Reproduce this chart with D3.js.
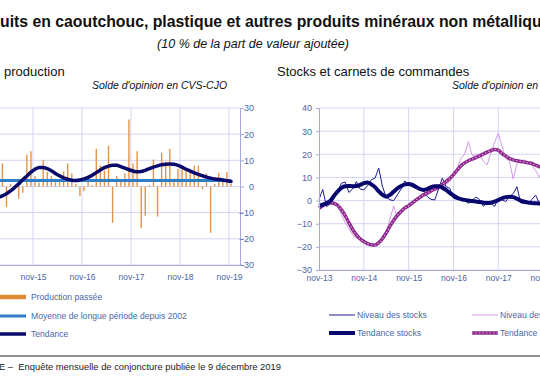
<!DOCTYPE html>
<html>
<head>
<meta charset="utf-8">
<script src="https://cdn.jsdelivr.net/npm/d3@7"></script>
<style>
  body { margin: 0; background: #fff; }
  svg { display: block; font-family: "Liberation Sans", Arial, sans-serif; }
</style>
</head>
<body>
<svg id="chart" width="540" height="376"></svg>
<script>
// month index 0 = nov-13
const tickMonths = [0, 12, 24, 36, 48, 60, 72];
const tickLabels = ["nov-13", "nov-14", "nov-15", "nov-16", "nov-17", "nov-18", "nov-19"];

// left panel : production passée (monthly bars from month 16 = mar-15)
const prodStart = 16;
const prodBars = [8.8, -7.8, 1, 0.5, -4.6, -2.4, 12.2, 13.5, 4, 1.5,
  10, 5.5, 4, 3, 2, 5.8, 8.8, 5, 1, -3.7,
  -1.8, 1.7, 0.5, 14.4, 8, 6, 15.6, -13.9, 4, 2,
  5, 25.6, 8.8, 13.5, -16, -11.2, 0.5, 10.3, -11.5, 12.9,
  9.5, 14.4, 3, 6.7, 6.5, 6, 5, 8, 8, -1,
  5, -17.7, 1, 5.2, 2, 5.5, 1];

// tendance (from month 15)
const prodTrendStart = 15;
const prodTrend = [-4.2, -3.6, -2.8, -1.7, -0.4, 1.0, 2.6, 4.0, 5.5, 6.6,
  7.3, 7.3, 6.8, 6.0, 5.0, 4.1, 3.3, 2.8, 2.4, 2.3,
  2.5, 2.9, 3.5, 4.3, 5.3, 6.3, 7.2, 7.8, 8.1, 8.1,
  7.6, 7.0, 6.4, 5.9, 5.6, 5.7, 6.2, 6.8, 7.4, 7.9,
  8.3, 8.5, 8.6, 8.5, 8.1, 7.4, 6.6, 5.9, 5.2, 4.6,
  4.1, 3.6, 3.2, 2.9, 2.7, 2.5, 2.2, 1.9];

const longTermMean = 2.3;

// right panel : stocks et carnets (from month 0)
const stocks = [0.5, 4.8, -2.6, -1.5, 1, 4, 7.5, 8, 3.5, 5,
  8.2, 5, 4.6, 6.5, 9, 9.7, 14, 6, 1.5, 0.3,
  0, 2.5, 5, 8.5, 6.8, 6, 5.3, 5, 4.6, 1.7,
  0.5, 0.3, 5, 9.7, 6, 5.3, 1, 0.5, 0.8, 0,
  -1.2, 0, 1.5, 0.5, -2.5, -1, -1.2, -2.6, 0.8, 0.3,
  -0.4, 1.7, 3, 6, -1, -1.2, -1.2, 0.5, 2.4, -1.2,
  -1.5];
const stocksTrend = [-2.2, -1.8, -1.2, -0.2, 2, 4, 5.5, 6.2, 6.3, 6.2,
  6.3, 6.8, 7.5, 7.8, 7, 5.8, 4, 2.5, 1.7, 2.5,
  3.9, 5.3, 6.3, 7, 7.2, 6.8, 5.9, 5, 4.6, 5,
  5.8, 6.2, 6.2, 5.6, 4.6, 3.3, 2.2, 1.2, 0.6, 0.3,
  0, -0.2, -0.4, -0.6, -0.9, -1, -0.9, -0.5, 0.2, 1,
  1.5, 1.7, 1.5, 0.8, 0, -0.5, -0.9, -1.1, -1.2, -1.3,
  -1.4];
const carnets = [-3.3, -1.5, 0, 0.3, -0.5, -2.5, -6, -9.5, -12, -14.8,
  -16.3, -16.5, -17, -19.2, -18.5, -19.5, -18, -15, -13.4, -8,
  -2.3, -7.6, -4.8, -3, -2.6, -1.2, 0, 1, 1.7, 2.5,
  3.9, 4.5, 5, 6, 7, 8.2, 11, 14, 18.3, 20,
  25.5, 19.5, 19.7, 20, 17, 15.4, 20.5, 25, 29.1, 23.5,
  18.3, 17, 9.3, 16, 17, 17.6, 16.5, 15.4, 13, 10,
  14];
const carnetsTrend = [-3.3, -2.2, -1.2, -0.9, -1.2, -2, -4, -6.5, -9.5, -12.5,
  -14.8, -16.5, -17.7, -18.6, -19.1, -19.2, -18.2, -16.5, -14, -11,
  -8.5, -6.3, -4.7, -3.2, -2.2, -1, 0.3, 1.4, 2.5, 3.3,
  4.2, 5, 6, 7, 8.2, 9.5, 11.2, 13.2, 15, 16.3,
  17.2, 17.9, 18.6, 19.3, 20.1, 20.9, 21.6, 22.1, 21.8, 20.3,
  19.2, 18.2, 17.6, 17.2, 16.9, 16.6, 16.3, 16, 15.3, 14.7,
  14.2];

const leftTicks = [-30, -20, -10, 0, 10, 20, 30];
const rightTicks = [-30, -20, -10, 0, 10, 20, 30, 40];

const gridColor = "#d4d4f4";
const axisColor = "#a8a8e0";
const labelColor = "#4a66a6";

const svg = d3.select("#chart");

// helper to measure text width
function textWidth(str, size, weight, style) {
  const t = svg.append("text")
    .attr("font-size", size)
    .attr("font-weight", weight || "normal")
    .attr("font-style", style || "normal")
    .text(str);
  const w = t.node().getComputedTextLength();
  t.remove();
  return w;
}

// titles
svg.append("text")
  .attr("x", -textWidth("Prod", 15.8, "bold"))
  .attr("y", 27)
  .attr("font-size", 15.8)
  .attr("font-weight", "bold")
  .attr("fill", "#111")
  .text("Produits en caoutchouc, plastique et autres produits minéraux non métalliques");

svg.append("text")
  .attr("x", 253)
  .attr("y", 48)
  .attr("text-anchor", "middle")
  .attr("font-size", 12.5)
  .attr("font-style", "italic")
  .attr("fill", "#111")
  .text("(10 % de la part de valeur ajoutée)");

svg.append("text").attr("x", 4).attr("y", 76).attr("font-size", 13).attr("fill", "#111").text("production");
svg.append("text").attr("x", 277).attr("y", 76).attr("font-size", 13).attr("fill", "#111").text("Stocks et carnets de commandes");

svg.append("text").attr("x", 92).attr("y", 89).attr("font-size", 10.5).attr("font-style", "italic").attr("fill", "#111")
  .text("Solde d'opinion en CVS-CJO");
svg.append("text").attr("x", 452).attr("y", 89).attr("font-size", 10.5).attr("font-style", "italic").attr("fill", "#111")
  .text("Solde d'opinion en CVS-CJO");

// ---------- left panel ----------
const xL = d3.scaleLinear().domain([0, 74.7]).range([-65, 240]);
const yL = d3.scaleLinear().domain([-30, 30]).range([265, 108]);

const gL = svg.append("g");

gL.selectAll(".hgrid")
  .data(leftTicks)
  .join("line")
  .attr("x1", xL(0)).attr("x2", xL(74.7))
  .attr("y1", d => yL(d)).attr("y2", d => yL(d))
  .attr("stroke", gridColor).attr("stroke-width", 1);

gL.selectAll(".vgrid")
  .data(tickMonths.slice(1))
  .join("line")
  .attr("x1", d => xL(d)).attr("x2", d => xL(d))
  .attr("y1", yL(30)).attr("y2", yL(-30))
  .attr("stroke", gridColor).attr("stroke-width", 1);

gL.selectAll(".bar")
  .data(prodBars)
  .join("rect")
  .attr("x", (d, i) => xL(prodStart + i + 0.5) - 0.7)
  .attr("width", 1.4)
  .attr("y", d => yL(Math.max(0, d)))
  .attr("height", d => Math.abs(yL(d) - yL(0)))
  .attr("fill", "#e3944a");

gL.append("line")
  .attr("x1", xL(prodTrendStart)).attr("x2", xL(72.5))
  .attr("y1", yL(longTermMean)).attr("y2", yL(longTermMean))
  .attr("stroke", "#2f7ec6").attr("stroke-width", 3);

const lineL = d3.line()
  .x((d, i) => xL(prodTrendStart + i + 0.5))
  .y(d => yL(d))
  .curve(d3.curveMonotoneX);

gL.append("path")
  .datum(prodTrend)
  .attr("d", lineL)
  .attr("fill", "none")
  .attr("stroke", "#0b0b6c")
  .attr("stroke-width", 3.5)
  .attr("stroke-linecap", "round");

const axisLR = gL.append("g")
  .attr("transform", `translate(${xL(74.7)},0)`)
  .call(d3.axisRight(yL).tickValues(leftTicks).tickSize(4).tickPadding(2));
axisLR.select(".domain").attr("stroke", axisColor);
axisLR.selectAll(".tick line").attr("stroke", axisColor);
axisLR.selectAll(".tick text")
  .attr("x", 14).attr("text-anchor", "end")
  .attr("fill", labelColor).attr("font-size", 9).attr("font-family", null);

// only the ticks that fall inside the visible part of the panel
const leftVisible = tickMonths.filter(m => xL(m) > 12);
const axisLB = gL.append("g")
  .attr("transform", `translate(0,${yL(-30)})`)
  .call(d3.axisBottom(xL).tickValues(leftVisible).tickFormat(d => tickLabels[tickMonths.indexOf(d)]).tickSize(0).tickPadding(9));
axisLB.select(".domain").attr("stroke", axisColor);
axisLB.selectAll(".tick text").attr("fill", labelColor).attr("font-size", 8.5).attr("font-family", null);

// ---------- right panel ----------
const xR = d3.scaleLinear().domain([0, 74.7]).range([319, 598]);
const yR = d3.scaleLinear().domain([-30, 40]).range([270, 108]);

const gR = svg.append("g");

gR.selectAll(".hgrid")
  .data(rightTicks)
  .join("line")
  .attr("x1", xR(0)).attr("x2", xR(74.7))
  .attr("y1", d => yR(d)).attr("y2", d => yR(d))
  .attr("stroke", gridColor).attr("stroke-width", 1);

gR.selectAll(".vgrid")
  .data(tickMonths.slice(1))
  .join("line")
  .attr("x1", d => xR(d)).attr("x2", d => xR(d))
  .attr("y1", yR(40)).attr("y2", yR(-30))
  .attr("stroke", gridColor).attr("stroke-width", 1);

const lineR = d3.line()
  .x((d, i) => xR(i))
  .y(d => yR(d));

gR.append("path").datum(carnets).attr("d", lineR)
  .attr("fill", "none").attr("stroke", "#d49ae6").attr("stroke-width", 1);

gR.append("path").datum(stocks).attr("d", lineR)
  .attr("fill", "none").attr("stroke", "#1c1c96").attr("stroke-width", 1);

gR.append("path").datum(carnetsTrend).attr("d", lineR.curve(d3.curveMonotoneX))
  .attr("fill", "none").attr("stroke", "#8a2a8a").attr("stroke-width", 3.5);
gR.append("path").datum(carnetsTrend).attr("d", lineR)
  .attr("fill", "none").attr("stroke", "#e08fe0").attr("stroke-width", 1.2)
  .attr("stroke-dasharray", "1.5,2");

gR.append("path").datum(stocksTrend).attr("d", lineR)
  .attr("fill", "none").attr("stroke", "#07076e").attr("stroke-width", 4);

const axisRL = gR.append("g")
  .attr("transform", `translate(${xR(0)},0)`)
  .call(d3.axisLeft(yR).tickValues(rightTicks).tickSize(3).tickPadding(4));
axisRL.select(".domain").attr("stroke", axisColor);
axisRL.selectAll(".tick line").attr("stroke", axisColor);
axisRL.selectAll(".tick text").attr("fill", labelColor).attr("font-size", 9).attr("font-family", null);

const axisRB = gR.append("g")
  .attr("transform", `translate(0,${yR(-30)})`)
  .call(d3.axisBottom(xR).tickValues(tickMonths).tickFormat((d, i) => tickLabels[i]).tickSize(0).tickPadding(5));
axisRB.select(".domain").attr("stroke", axisColor);
axisRB.selectAll(".tick text").attr("fill", labelColor).attr("font-size", 8.5).attr("font-family", null);

// ---------- legends ----------
const legFont = 8.6;
const legL = [
  { label: "Production passée", color: "#e38a35", w: 4.5, y: 297 },
  { label: "Moyenne de longue période depuis 2002", color: "#2f7ec6", w: 3, y: 316 },
  { label: "Tendance", color: "#0b0b6c", w: 3.5, y: 334 }
];
const gLeg = svg.append("g");
gLeg.selectAll("line")
  .data(legL)
  .join("line")
  .attr("x1", -2).attr("x2", 26)
  .attr("y1", d => d.y).attr("y2", d => d.y)
  .attr("stroke", d => d.color).attr("stroke-width", d => d.w);
gLeg.selectAll("text")
  .data(legL)
  .join("text")
  .attr("x", 31).attr("y", d => d.y + 3.2)
  .attr("font-size", legFont).attr("fill", labelColor)
  .text(d => d.label);

const legR = [
  { label: "Niveau des stocks", color: "#1c1c96", w: 1, x: 329, y: 315 },
  { label: "Tendance stocks", color: "#07076e", w: 4, x: 329, y: 333 },
  { label: "Niveau des carnets", color: "#d49ae6", w: 1, x: 472, y: 315 },
  { label: "Tendance carnets", color: "#8a2a8a", w: 3.5, x: 472, y: 333, dots: true }
];
const gLegR = svg.append("g");
gLegR.selectAll("line.base")
  .data(legR)
  .join("line")
  .attr("class", "base")
  .attr("x1", d => d.x).attr("x2", d => d.x + 26)
  .attr("y1", d => d.y).attr("y2", d => d.y)
  .attr("stroke", d => d.color).attr("stroke-width", d => d.w);
gLegR.selectAll("line.dots")
  .data(legR.filter(d => d.dots))
  .join("line")
  .attr("class", "dots")
  .attr("x1", d => d.x).attr("x2", d => d.x + 26)
  .attr("y1", d => d.y).attr("y2", d => d.y)
  .attr("stroke", "#e08fe0").attr("stroke-width", 1.2).attr("stroke-dasharray", "1.5,2");
gLegR.selectAll("text")
  .data(legR)
  .join("text")
  .attr("x", d => d.x + 28).attr("y", d => d.y + 3.2)
  .attr("font-size", legFont).attr("fill", labelColor)
  .text(d => d.label);

// ---------- footer ----------
svg.append("line")
  .attr("x1", 0).attr("x2", 540).attr("y1", 356).attr("y2", 356)
  .attr("stroke", "#222").attr("stroke-width", 1);

svg.append("text")
  .attr("x", -1 - textWidth("Source : BANQUE DE FRANC", 9.4))
  .attr("y", 370)
  .attr("font-size", 9.4)
  .attr("fill", "#222")
  .attr("xml:space", "preserve")
  .text("Source : BANQUE DE FRANCE –  Enquête mensuelle de conjoncture publiée le 9 décembre 2019");
</script>
</body>
</html>
